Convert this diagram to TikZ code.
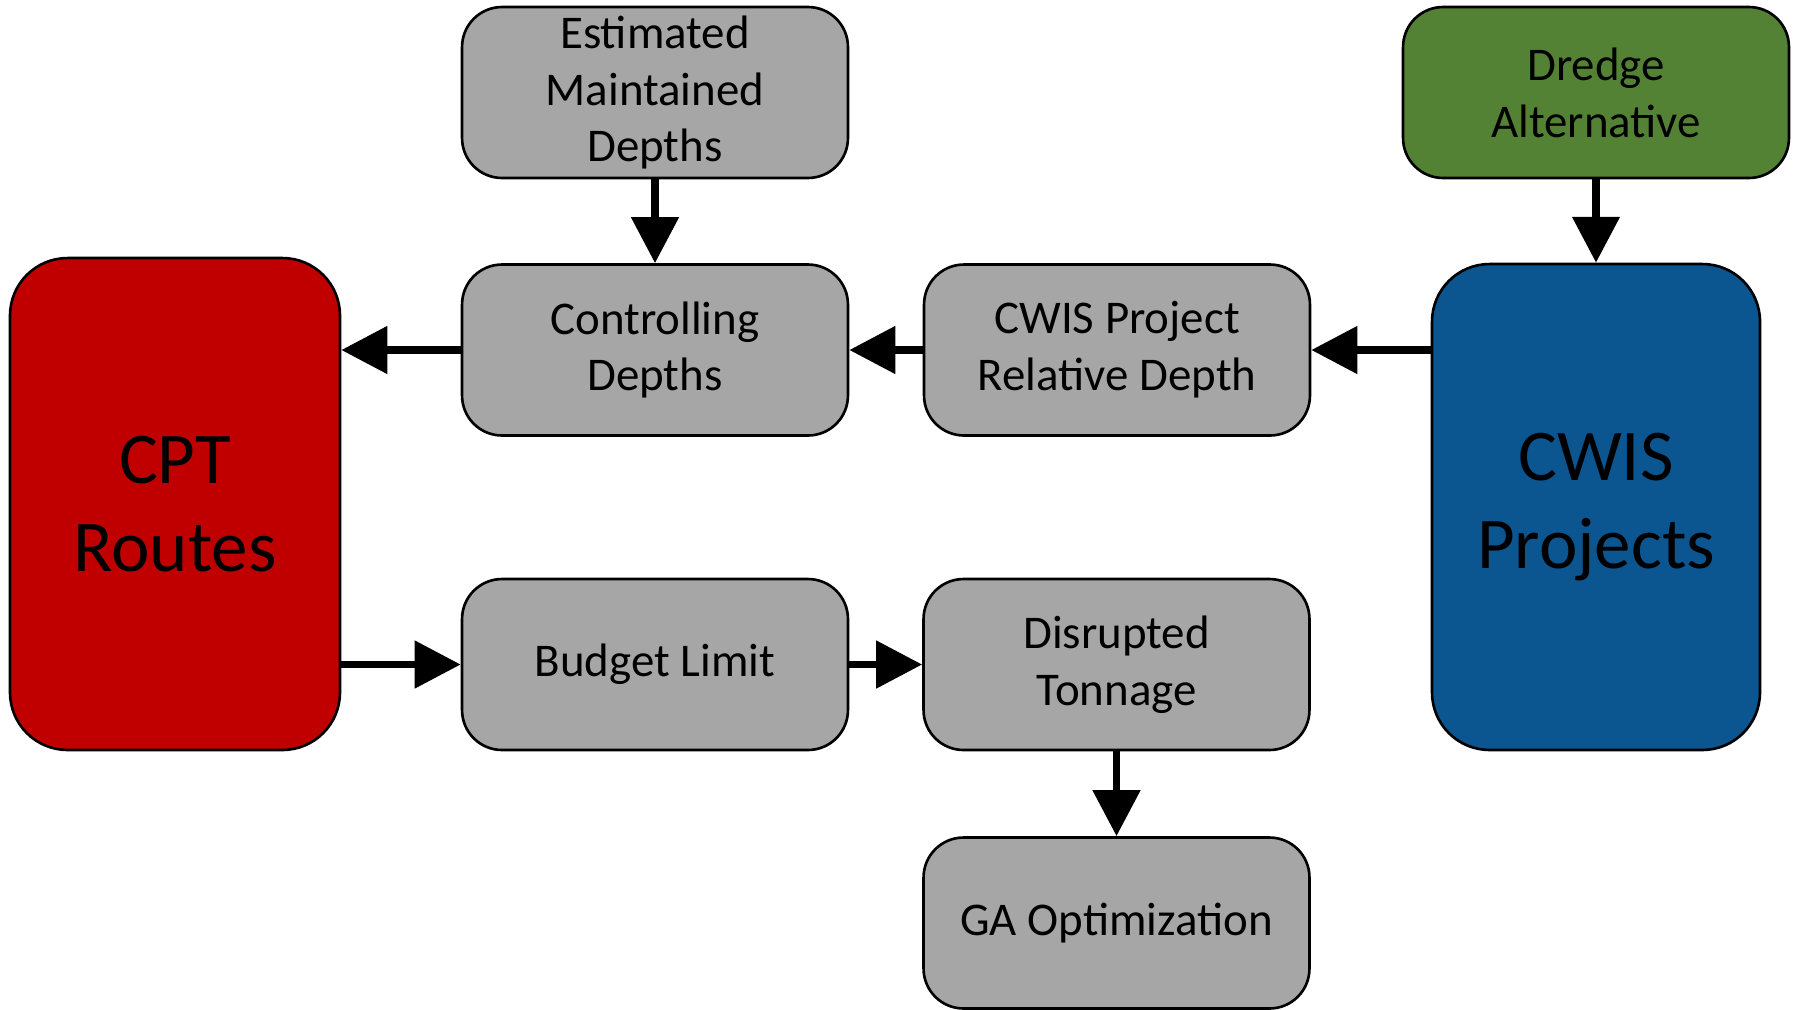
\documentclass[tikz,border=0pt]{standalone}
\usepackage{fontspec}
\setmainfont{Carlito}
\usetikzlibrary{arrows.meta,positioning}
\usepackage{xcolor}

\definecolor{cptred}{HTML}{C00000}
\definecolor{cwisblue}{HTML}{0B5590}
\definecolor{dredgegreen}{HTML}{548235}
\definecolor{stepgray}{HTML}{A6A6A6}

\tikzset{
    box/.style={draw=black, line width=1.5pt, rounded corners=0.8cm, fill=stepgray,
        minimum width=7.72cm, minimum height=3.42cm, align=center, inner sep=0pt,
        font=\fontsize{26.7}{32.4}\selectfont},
    bigbox/.style={box, rounded corners=1.15cm, minimum width=6.6cm, minimum height=9.84cm,
        font=\fontsize{41.5}{50}\selectfont},
    flow/.style={line width=4.5pt, -{Triangle[length=0.92cm, width=0.92cm]}},
}

\begin{document}
\begin{tikzpicture}[x=0.02cm, y=-0.02cm]

    \useasboundingbox (0,0) rectangle (1798,1009);

    %big boxes
    \node[bigbox, fill=cptred] (cpt) at (175,504) {CPT\\Routes};
    \node[bigbox, fill=cwisblue, minimum width=6.56cm, minimum height=9.72cm] (cwis) at (1596,507) {CWIS\\Projects};

    %steps
    \node[box] (estdepth) at (655,92.5) {Estimated\\Maintained\\Depths};
    \node[box] (ctrldepth) at (655,350) {Controlling\\Depths};
    \node[box] (reldepth) at (1117,350) {CWIS Project\\Relative Depth};
    \node[box] (budget) at (655,664.5) {Budget Limit};
    \node[box] (tonnage) at (1116.5,664.5) {Disrupted\\Tonnage};
    \node[box] (gaopt) at (1116.5,923) {GA Optimization};
    \node[box, fill=dredgegreen] (dredge) at (1596,92.5) {Dredge\\Alternative};

    %arrows
    \draw[flow] (estdepth) -- (ctrldepth);
    \draw[flow] (ctrldepth.west) -- (ctrldepth.west -| cpt.east);
    \draw[flow] (reldepth) -- (ctrldepth);
    \draw[flow] (cwis.west |- reldepth.east) -- (reldepth.east);
    \draw[flow] (dredge) -- (cwis);
    \draw[flow] (cpt.east |- budget.west) -- (budget.west);
    \draw[flow] (budget) -- (tonnage);
    \draw[flow] (tonnage) -- (gaopt);

\end{tikzpicture}
\end{document}
